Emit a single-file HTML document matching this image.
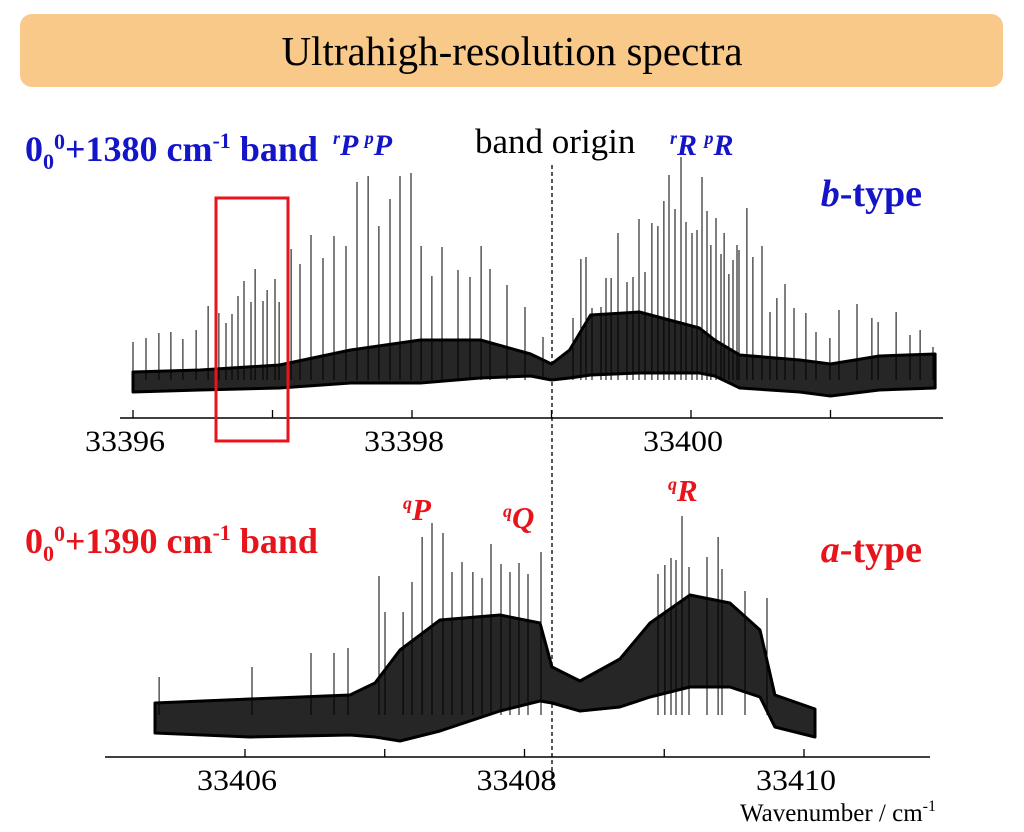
<!DOCTYPE html>
<html><head><meta charset="utf-8"><style>
body{margin:0;background:#fff;}
svg{display:block;font-family:"Liberation Serif",serif;}
</style></head><body>
<svg id="c" width="1024" height="832" viewBox="0 0 1024 832">
<rect x="20" y="14" width="983" height="73" rx="12" fill="#F9C98A"/>
<text x="512" y="65" font-size="41" text-anchor="middle" fill="#000">Ultrahigh-resolution spectra</text>

<text x="25" y="161" font-size="36" font-weight="bold" fill="#1414C8">0<tspan font-size="22" dy="8">0</tspan><tspan font-size="22" dy="-20">0</tspan><tspan dy="12">+1380 cm</tspan><tspan font-size="22" dy="-13">-1</tspan><tspan dy="13"> band</tspan></text>
<text x="333" y="155" font-size="30" font-weight="bold" font-style="italic" fill="#1414C8"><tspan font-size="18" dy="-11">r</tspan><tspan dy="11">P  </tspan><tspan font-size="18" dy="-11">p</tspan><tspan dy="11">P</tspan></text>
<text x="475" y="153" font-size="35" fill="#000">band origin</text>
<text x="670" y="155" font-size="30" font-weight="bold" font-style="italic" fill="#1414C8"><tspan font-size="18" dy="-11">r</tspan><tspan dy="11">R  </tspan><tspan font-size="18" dy="-11">p</tspan><tspan dy="11">R</tspan></text>
<text x="922" y="206" font-size="38" font-weight="bold" fill="#1414C8" text-anchor="end"><tspan font-style="italic">b</tspan>-type</text>

<text x="25" y="553" font-size="36" font-weight="bold" fill="#E8141C">0<tspan font-size="22" dy="8">0</tspan><tspan font-size="22" dy="-20">0</tspan><tspan dy="12">+1390 cm</tspan><tspan font-size="22" dy="-13">-1</tspan><tspan dy="13"> band</tspan></text>
<text x="922" y="562" font-size="38" font-weight="bold" fill="#E8141C" text-anchor="end"><tspan font-style="italic">a</tspan>-type</text>
<text x="403" y="520" font-size="31" font-weight="bold" font-style="italic" fill="#E8141C"><tspan font-size="18" dy="-11">q</tspan><tspan dy="11">P</tspan></text>
<text x="503" y="528" font-size="31" font-weight="bold" font-style="italic" fill="#E8141C"><tspan font-size="18" dy="-11">q</tspan><tspan dy="11">Q</tspan></text>
<text x="668" y="501" font-size="31" font-weight="bold" font-style="italic" fill="#E8141C"><tspan font-size="18" dy="-11">q</tspan><tspan dy="11">R</tspan></text>
<text x="740" y="821" font-size="25" fill="#000">Wavenumber / cm<tspan font-size="16" dy="-10">-1</tspan></text>
<line x1="552" y1="165" x2="552" y2="790" stroke="#000" stroke-width="1.3" stroke-dasharray="4,3"/>
<g id="top"></g>
<g id="bot"></g>
<rect x="216" y="198" width="72" height="243" fill="none" stroke="#E8141C" stroke-width="3"/>
</svg>
<script>
// ---- top spectrum (0_0^0+1380) data ----
const topEnvWn = [33396.0,33396.48,33397.05,33397.56,33398.06,33398.49,33398.85,33399.0,33399.13,33399.28,33399.63,33400.06,33400.17,33400.35,33400.78,33401.0,33401.35,33401.75];
const topEnvUpper = [28,30,35,50,60,60,46,36,50,85,88,72,60,45,40,36,44,46];
const topEnvLower = [8,10,12,17,17,22,24,20,22,25,27,27,24,12,8,4,10,12];
const topPeakWn = [33396.0,33396.093,33396.186,33396.272,33396.358,33396.452,33396.538,33396.616,33396.667,33396.71,33396.753,33396.796,33396.846,33396.875,33396.932,33396.961,33397.018,33397.047,33397.133,33397.197,33397.276,33397.362,33397.441,33397.527,33397.606,33397.685,33397.763,33397.842,33397.914,33397.993,33398.065,33398.143,33398.215,33398.33,33398.416,33398.495,33398.559,33398.681,33398.81,33398.939,
33399.154,33399.211,33399.247,33399.29,33399.355,33399.391,33399.427,33399.477,33399.541,33399.584,33399.627,33399.67,33399.72,33399.763,33399.806,33399.842,33399.885,33399.928,33399.964,33400.007,33400.043,33400.079,33400.115,33400.143,33400.179,33400.215,33400.237,33400.272,33400.301,33400.33,33400.344,33400.401,33400.444,33400.509,33400.566,33400.616,33400.674,33400.738,33400.824,33400.896,33400.996,33401.061,33401.19,33401.297,33401.341,33401.47,33401.57,33401.642,33401.735];
const topPeakI = [58,62,67,68,61,70,94,87,77,86,104,119,98,131,99,110,121,98,151,136,165,142,164,154,218,224,174,201,224,227,154,124,153,130,123,154,131,115,93,63,
82,141,143,92,93,122,122,167,118,123,181,128,177,174,199,225,191,243,178,167,170,223,189,155,182,146,167,126,140,155,150,192,143,154,88,102,116,92,87,68,62,90,96,82,78,88,65,70,53];
const topTicks = [33396,33397,33398,33399,33400,33401];
const topTickLabels = ["33396","","33398","","33400",""];
// ---- bottom spectrum (0_0^0+1390) data ----
const botEnvWn = [33405.356,33406.036,33406.751,33406.93,33407.109,33407.395,33407.825,33408.111,33408.197,33408.397,33408.683,33408.898,33409.184,33409.47,33409.685,33409.792,33410.079];
const botEnvUpper = [42,46,50,62,95,125,130,122,78,64,86,122,150,142,115,50,36];
const botEnvLower = [12,8,10,8,4,14,34,44,42,34,38,48,58,58,48,18,8];
const botPeakWn = [33405.385,33406.05,33406.472,33406.637,33406.737,33406.959,33407.002,33407.131,33407.195,33407.267,33407.338,33407.417,33407.481,33407.553,33407.631,33407.696,33407.76,33407.832,33407.896,33407.961,33408.025,33408.118,33408.955,33409.005,33409.048,33409.084,33409.127,33409.177,33409.306,33409.385,33409.413,33409.578,33409.735];
const botPeakI = [68,78,92,92,97,169,133,133,163,208,222,212,173,183,173,167,201,181,173,182,171,193,171,180,187,185,229,178,188,208,176,154,147];
const botTicks = [33406,33407,33408,33409,33410];
const botTickLabels = ["33406","","33408","","33410"];

const NS="http://www.w3.org/2000/svg";
function mk(parent,tag,attrs){const e=document.createElementNS(NS,tag);for(const k in attrs)e.setAttribute(k,attrs[k]);parent.appendChild(e);return e;}

function drawPanel(g,cfg){
  const xs=w=>cfg.x0+(w-cfg.w0)*cfg.pxPerUnit;
  const ys=i=>cfg.base-i;
  let pts=[];
  cfg.envWn.forEach((w,i)=>pts.push(xs(w).toFixed(1)+","+ys(cfg.up[i]).toFixed(1)));
  for(let i=cfg.envWn.length-1;i>=0;i--)pts.push(xs(cfg.envWn[i]).toFixed(1)+","+ys(cfg.lo[i]).toFixed(1));
  const band=mk(g,"polygon",{points:pts.join(" "),fill:"#262626",stroke:"#000","stroke-width":"3","stroke-linejoin":"round"});
  
  
  cfg.pWn.forEach((w,i)=>{
    const x=xs(w);
    const l=mk(g,"line",{x1:x.toFixed(1),x2:x.toFixed(1),y1:ys(cfg.pI[i]).toFixed(1),y2:ys(cfg.lineFloor).toFixed(1),stroke:"#000","stroke-width":"1"});
    
    
  });
  const ax=mk(g,"line",{x1:cfg.ax1,x2:cfg.ax2,y1:cfg.axY,y2:cfg.axY,stroke:"#000","stroke-width":"1.5"});
  
  
  cfg.ticks.forEach((t,i)=>{
    const x=xs(t);
    const tk=mk(g,"line",{x1:x,x2:x,y1:cfg.axY-8,y2:cfg.axY,stroke:"#000","stroke-width":"1.3"});
    
    
    if(cfg.labels[i]){
      const tx=mk(g,"text",{x:x-8,y:cfg.axY+33,"font-size":"30","text-anchor":"middle",fill:"#000",textLength:"80",lengthAdjust:"spacingAndGlyphs"});
      tx.textContent=cfg.labels[i];
      
      
    }
  });
}
drawPanel(document.getElementById("top"),{x0:133,w0:33396,pxPerUnit:139.5,base:400,envWn:topEnvWn,up:topEnvUpper,lo:topEnvLower,pWn:topPeakWn,pI:topPeakI,lineFloor:20,ax1:120,ax2:943,axY:418,ticks:topTicks,labels:topTickLabels});
drawPanel(document.getElementById("bot"),{x0:245,w0:33406,pxPerUnit:139.75,base:745,envWn:botEnvWn,up:botEnvUpper,lo:botEnvLower,pWn:botPeakWn,pI:botPeakI,lineFloor:30,ax1:105,ax2:930,axY:757,ticks:botTicks,labels:botTickLabels});
</script>
</body></html>
